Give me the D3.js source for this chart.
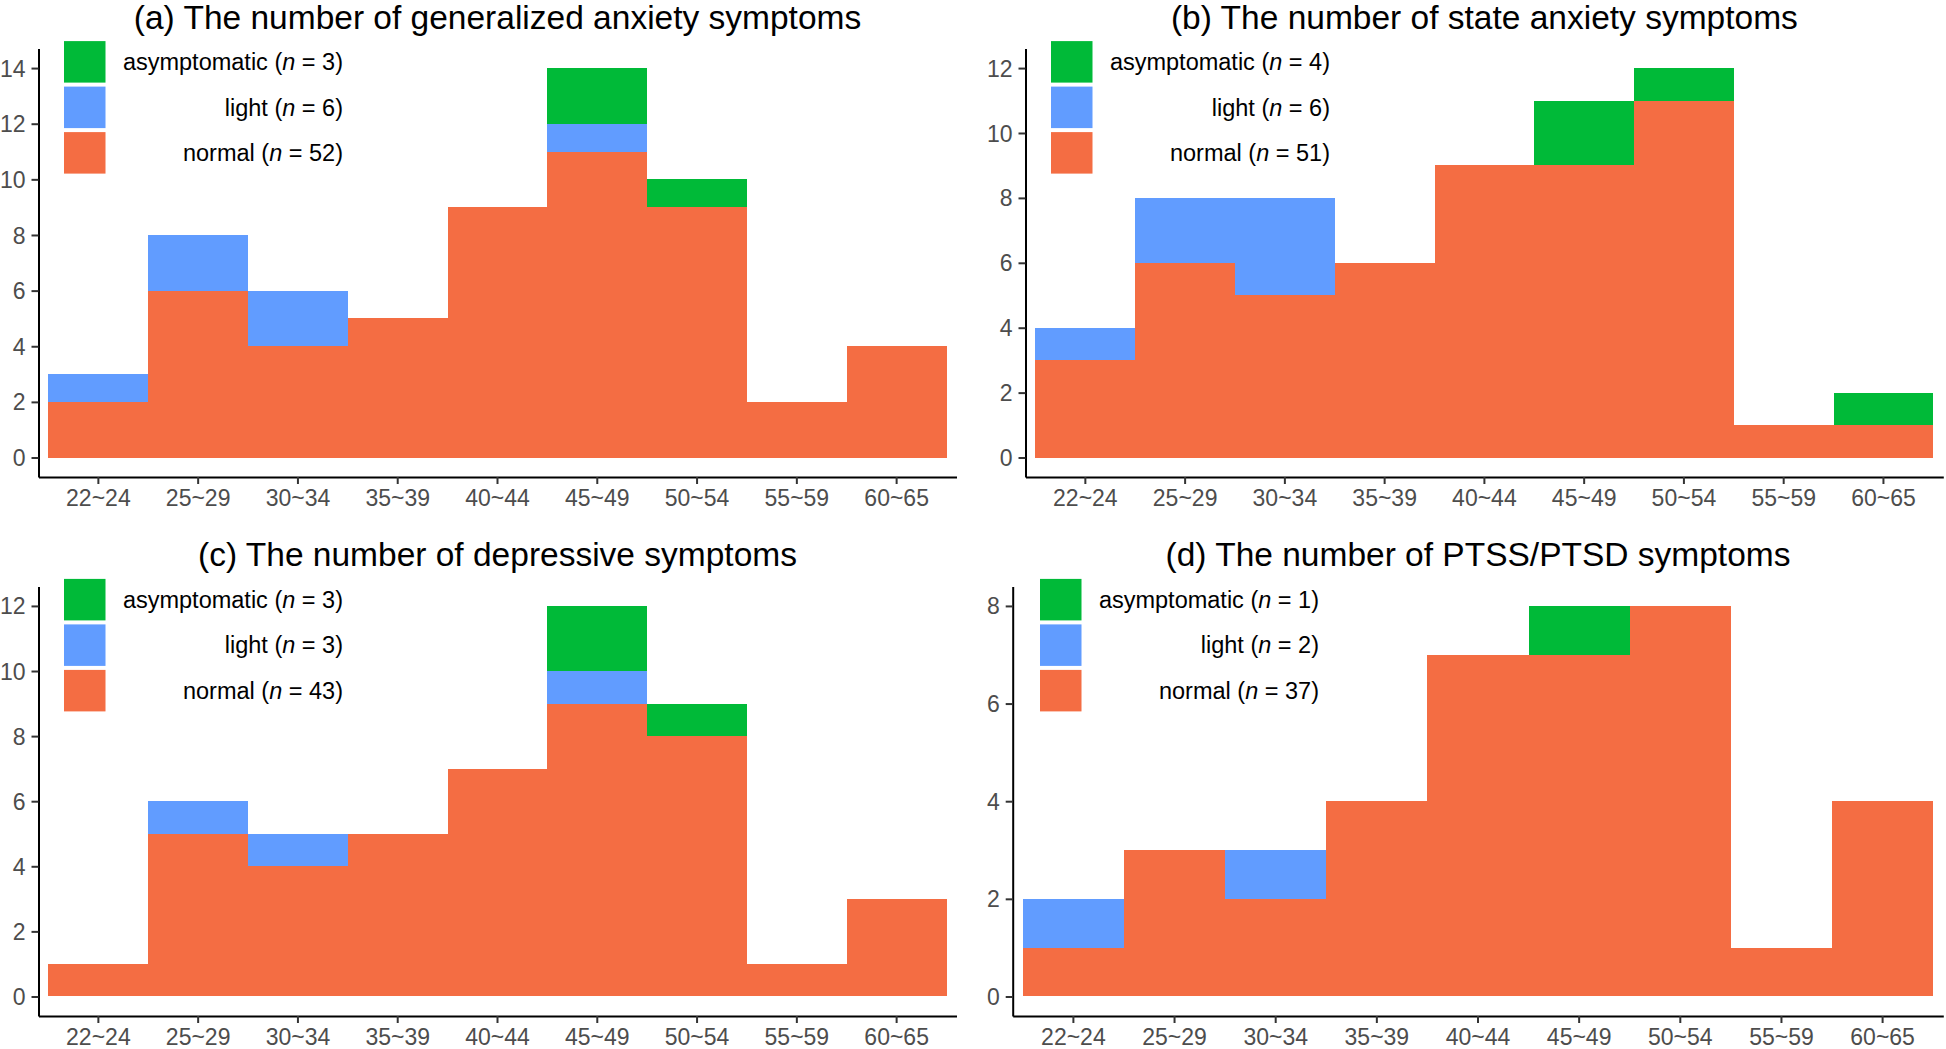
<!DOCTYPE html>
<html>
<head>
<meta charset="utf-8">
<script src="https://cdn.jsdelivr.net/npm/d3@7"></script>
<style>
    html, body { margin: 0; padding: 0; background: #ffffff; }
    svg { display: block; font-family: "Liberation Sans", Arial, sans-serif; }
</style>
</head>
<body>
<div id="chart"></div>
<script>
// Age groups shared by all four panels
const ageGroups = ['22~24', '25~29', '30~34', '35~39', '40~44', '45~49', '50~54', '55~59', '60~65'];

// Symptom levels, bottom of the stack first
const levels = ['normal', 'light', 'asymptomatic'];
const levelColors = { normal: '#F46D43', light: '#619CFF', asymptomatic: '#00BA38' };

// (a) generalized anxiety
const generalNormal = [2, 6, 4, 5, 9, 11, 9, 2, 4];
const generalLight = [1, 2, 2, 0, 0, 1, 0, 0, 0];
const generalAsym = [0, 0, 0, 0, 0, 2, 1, 0, 0];

// (b) state anxiety
const stateNormal = [3, 6, 5, 6, 9, 9, 11, 1, 1];
const stateLight = [1, 2, 3, 0, 0, 0, 0, 0, 0];
const stateAsym = [0, 0, 0, 0, 0, 2, 1, 0, 1];

// (c) depressive
const depressNormal = [1, 5, 4, 5, 7, 9, 8, 1, 3];
const depressLight = [0, 1, 1, 0, 0, 1, 0, 0, 0];
const depressAsym = [0, 0, 0, 0, 0, 2, 1, 0, 0];

// (d) PTSS/PTSD
const ptsdNormal = [1, 3, 2, 4, 7, 7, 8, 1, 4];
const ptsdLight = [1, 0, 1, 0, 0, 0, 0, 0, 0];
const ptsdAsym = [0, 0, 0, 0, 0, 1, 0, 0, 0];

const panelTitles = [
    '(a) The number of generalized anxiety symptoms',
    '(b) The number of state anxiety symptoms',
    '(c) The number of depressive symptoms',
    '(d) The number of PTSS/PTSD symptoms'
];

document.addEventListener('DOMContentLoaded', () => {
    const WIDTH = 1946, HEIGHT = 1049;

    const BOXES = [
        { left: 38.5, right: 956.5, top: 48.6, bottom: 477, legendDx: 25.5 },
        { left: 1025.5, right: 1943.3, top: 48.6, bottom: 477, legendDx: 25.5 },
        { left: 38.5, right: 956.5, top: 586.4, bottom: 1016, legendDx: 25.5 },
        { left: 1012.7, right: 1943.3, top: 586.4, bottom: 1016, legendDx: 27.3 }
    ];

    const series = [
        [generalNormal, generalLight, generalAsym],
        [stateNormal, stateLight, stateAsym],
        [depressNormal, depressLight, depressAsym],
        [ptsdNormal, ptsdLight, ptsdAsym]
    ];

    const svg = d3.select('#chart')
        .append('svg')
        .attr('width', WIDTH)
        .attr('height', HEIGHT);

    series.forEach((s, i) => drawPanel(s, panelTitles[i], BOXES[i]));

    function drawPanel(values, title, box) {
        // Build one row per age group for d3.stack
        const rows = ageGroups.map((age, j) => {
            const row = { age };
            levels.forEach((lv, k) => { row[lv] = values[k][j]; });
            return row;
        });
        const stacked = d3.stack().keys(levels)(rows);
        const maxTotal = d3.max(rows, r => d3.sum(levels, lv => r[lv]));

        const x = d3.scaleBand()
            .domain(ageGroups)
            .range([box.left, box.right])
            .paddingInner(0)
            .paddingOuter(0.1);

        const y = d3.scaleLinear()
            .domain([-0.05 * maxTotal, maxTotal * 1.05])
            .range([box.bottom, box.top]);

        const g = svg.append('g');

        // Stacked bars (crisp edges so neighbouring bars show no seam)
        g.append('g')
            .attr('shape-rendering', 'crispEdges')
            .selectAll('g')
            .data(stacked)
            .enter()
            .append('g')
            .attr('fill', d => levelColors[d.key])
            .selectAll('rect')
            .data(d => d.filter(p => p[1] > p[0]))
            .enter()
            .append('rect')
            .attr('x', d => x(d.data.age))
            .attr('width', x.bandwidth())
            .attr('y', d => y(d[1]))
            .attr('height', d => y(d[0]) - y(d[1]));

        // Axes
        const yAxis = d3.axisLeft(y)
            .tickValues(d3.range(0, maxTotal + 1, 2))
            .tickSize(7)
            .tickSizeOuter(0)
            .tickPadding(6);
        const xAxis = d3.axisBottom(x)
            .tickSize(7)
            .tickSizeOuter(0)
            .tickPadding(6);

        const ya = g.append('g')
            .attr('transform', `translate(${box.left},0)`)
            .call(yAxis);
        const xa = g.append('g')
            .attr('transform', `translate(0,${box.bottom})`)
            .call(xAxis);

        [ya, xa].forEach(a => {
            a.select('.domain').attr('stroke', '#000').attr('stroke-width', 2);
            a.selectAll('.tick line').attr('stroke', '#333').attr('stroke-width', 2);
            a.selectAll('.tick text')
                .attr('fill', '#4D4D4D')
                .style('font-size', '23px');
        });
        xa.selectAll('.tick text').attr('dy', '0.71em');
        ya.selectAll('.tick text').attr('dy', '0.35em');

        // Title, centred over the plot area
        g.append('text')
            .attr('x', (box.left + box.right) / 2)
            .attr('y', box.top - 20)
            .attr('text-anchor', 'middle')
            .style('font-size', '33.5px')
            .style('fill', '#000')
            .text(title);

        // Legend, top to bottom: asymptomatic, light, normal
        const legendTop = box.top - 7.5;
        const legendLeft = box.left + box.legendDx;
        const KEY = 41.5, PITCH = 45.5;
        const legendLevels = levels.slice().reverse();

        const legend = g.append('g')
            .selectAll('g')
            .data(legendLevels)
            .enter()
            .append('g')
            .attr('transform', (d, k) => `translate(${legendLeft},${legendTop + k * PITCH})`);

        legend.append('rect')
            .attr('width', KEY)
            .attr('height', KEY)
            .attr('fill', d => levelColors[d]);

        const label = legend.append('text')
            .attr('x', 279)
            .attr('y', KEY / 2)
            .attr('dy', '0.35em')
            .attr('text-anchor', 'end')
            .style('font-size', '23.5px')
            .style('fill', '#000');

        label.each(function(d) {
            const n = d3.sum(values[levels.indexOf(d)]);
            const t = d3.select(this);
            t.append('tspan').text(`${d} (`);
            t.append('tspan').style('font-style', 'italic').text('n');
            t.append('tspan').text(` = ${n})`);
        });
    }
});
</script>
</body>
</html>
